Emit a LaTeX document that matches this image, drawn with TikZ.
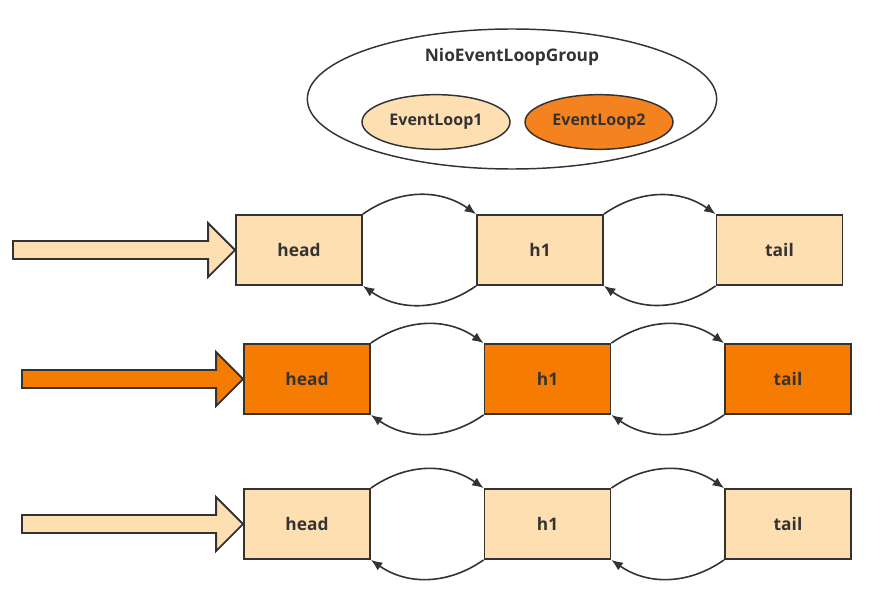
\documentclass[tikz,border=0pt]{standalone}
\usepackage{fontspec}
\setmainfont{Open Sans}
\usetikzlibrary{arrows.meta,shapes.geometric,calc}
\definecolor{lightor}{HTML}{FEDFB2}
\definecolor{darkor}{HTML}{F57C00}
\definecolor{loopor}{HTML}{F4821E}
\definecolor{ink}{HTML}{333333}
\tikzset{
  box/.style={draw=ink,line width=1.4pt,minimum width=94.5pt,minimum height=52.5pt,inner sep=0pt,font=\bfseries\fontsize{13}{15}\selectfont,text=ink},
  lbox/.style={box,fill=lightor},
  dbox/.style={box,fill=darkor},
  link/.style={draw=ink,line width=1.2pt,-{Latex[length=8.5pt,width=7pt]}},
  bigarrow/.style={draw=ink,line width=1.4pt,line join=miter},
  loop/.style={ellipse,draw=ink,line width=1.1pt,minimum width=111pt,minimum height=41pt,inner sep=0pt,font=\bfseries\fontsize{12}{14}\selectfont,text=ink}
}
\begin{document}
\begin{tikzpicture}[x=0.75pt,y=-0.75pt]
\useasboundingbox (0,0) rectangle (881,613);
% group
\node[ellipse,draw=ink,line width=1.1pt,minimum width=307pt,minimum height=105pt] (grp) at (512,99) {};
\node[font=\bfseries\fontsize{13}{15}\selectfont,text=ink] (gtitle) at (512,57) {NioEventLoopGroup};
\node[loop,fill=lightor] (el1) at (436,122) {EventLoop1};
\node[loop,fill=loopor] (el2) at (599,122) {EventLoop2};
% row 1
\node[lbox] (a1) at (299,250) {head};
\node[lbox] (b1) at (540,250) {h1};
\node[lbox] (c1) at (779.5,250) {tail};
% row 2
\node[dbox] (a2) at (307,379) {head};
\node[dbox] (b2) at (547.5,379) {h1};
\node[dbox] (c2) at (788,379) {tail};
% row 3
\node[lbox] (a3) at (307,524) {head};
\node[lbox] (b3) at (547.5,524) {h1};
\node[lbox] (c3) at (788,524) {tail};
% links
\foreach \r in {1,2,3}{
  \draw[link] (a\r.north east) to[bend left=35] (b\r.north west);
  \draw[link] (b\r.south west) to[bend left=35] (a\r.south east);
  \draw[link] (b\r.north east) to[bend left=35] (c\r.north west);
  \draw[link] (c\r.south west) to[bend left=35] (b\r.south east);
}
% big arrows
\draw[bigarrow,fill=lightor] (a1.west) -- ++(-27,-27) -- ++(0,18) -- (13,241) -- (13,259) -- ($(a1.west)+(-27,9)$) -- ++(0,18) -- cycle;
\draw[bigarrow,fill=darkor] (a2.west) -- ++(-27,-27) -- ++(0,18) -- (22,370) -- (22,388) -- ($(a2.west)+(-27,9)$) -- ++(0,18) -- cycle;
\draw[bigarrow,fill=lightor] (a3.west) -- ++(-27,-27) -- ++(0,18) -- (22,515) -- (22,533) -- ($(a3.west)+(-27,9)$) -- ++(0,18) -- cycle;
\end{tikzpicture}
\end{document}
